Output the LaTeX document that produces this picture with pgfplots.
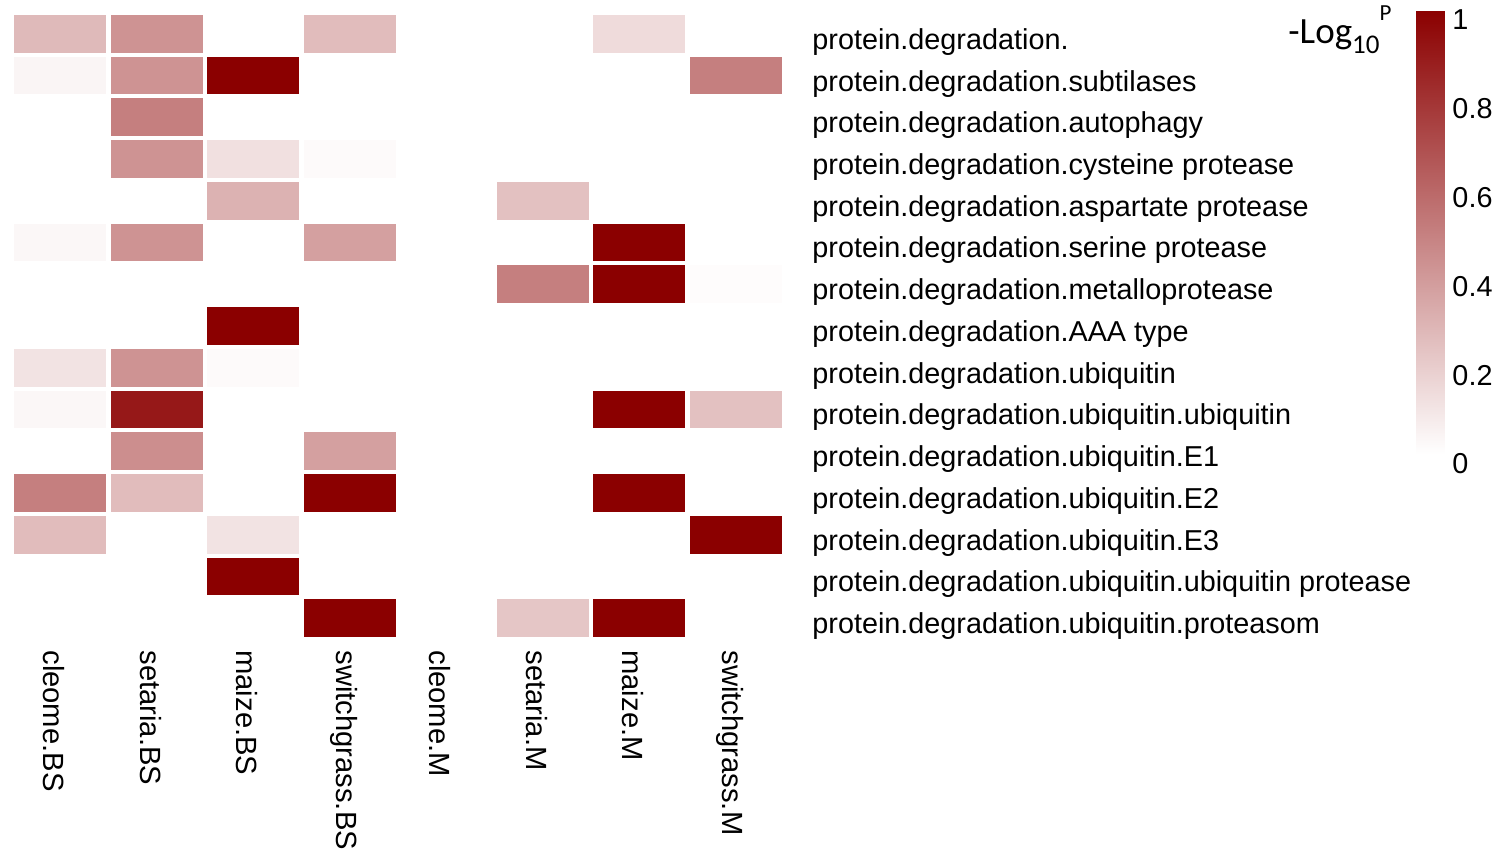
\documentclass[border=0pt]{standalone}
\usepackage{pgfplots}
\pgfplotsset{compat=1.18}
\usepackage{fontspec}
\setmainfont{Liberation Sans}
\newfontfamily\carlito{Carlito}
\begin{document}
\begin{tikzpicture}
\useasboundingbox (0,0) rectangle (754pt,-428.5pt);
\begin{axis}[
  at={(6pt,-6.5pt)}, anchor=north west,
  scale only axis, width=386pt, height=313pt,
  xmin=-0.5, xmax=7.5, ymin=-0.5, ymax=14.5,
  axis line style={draw=none}, major tick length=0pt,
  xtick={0,...,7},
  xticklabels={cleome.BS,setaria.BS,maize.BS,switchgrass.BS,cleome.M,setaria.M,maize.M,switchgrass.M},
  xticklabel style={xshift=-3pt, yshift=-5.5pt, rotate=-90, anchor=west, inner sep=0pt, font=\fontsize{14.6}{16}\selectfont},
  ytick={0,...,14},
  yticklabels={
    protein.degradation.ubiquitin.proteasom,
    protein.degradation.ubiquitin.ubiquitin protease,
    protein.degradation.ubiquitin.E3,
    protein.degradation.ubiquitin.E2,
    protein.degradation.ubiquitin.E1,
    protein.degradation.ubiquitin.ubiquitin,
    protein.degradation.ubiquitin,
    protein.degradation.AAA type,
    protein.degradation.metalloprotease,
    protein.degradation.serine protease,
    protein.degradation.aspartate protease,
    protein.degradation.cysteine protease,
    protein.degradation.autophagy,
    protein.degradation.subtilases,
    protein.degradation.},
  yticklabel pos=right,
  yticklabel style={anchor=west, inner sep=0pt, xshift=14pt, yshift=-4pt, font=\fontsize{14.4}{16}\selectfont},
  colormap={wr}{rgb255=(255,255,255) rgb255=(139,0,0)},
  point meta min=0, point meta max=1,
  colorbar,
  colorbar style={
    at={(parent axis.north east)}, anchor=north west,
    xshift=307.5pt, yshift=1.5pt,
    width=15pt, height=222pt,
    axis line style={draw=none}, major tick length=0pt,
    ytick={0,0.2,0.4,0.6,0.8,1},
    yticklabel style={anchor=west, inner sep=0pt, xshift=3pt, yshift=-5pt, font=\fontsize{14.4}{16}\selectfont, /pgf/number format/assume math mode=true},
  },
]
\addplot[scatter, only marks, scatter src=explicit, mark=square*, mark size=9.93pt,
  mark options={xscale=2.378, line width=1pt},
  scatter/use mapped color={draw=white, fill=mapped color}]
  table[meta=c] {
x y c
0 14 0.27
1 14 0.42
3 14 0.26
6 14 0.14
0 13 0.04
1 13 0.42
2 13 1
7 13 0.5
1 12 0.5
1 11 0.42
2 11 0.12
3 11 0.02
2 10 0.30
5 10 0.24
0 9 0.03
1 9 0.42
3 9 0.37
6 9 1
5 8 0.5
6 8 1
7 8 0.01
2 7 1
0 6 0.11
1 6 0.42
2 6 0.02
0 5 0.03
1 5 0.9
6 5 1
7 5 0.24
1 4 0.44
3 4 0.37
0 3 0.5
1 3 0.26
3 3 1
6 3 1
0 2 0.26
2 2 0.11
7 2 1
2 1 1
3 0 1
5 0 0.22
6 0 1
};
\end{axis}
\node[anchor=base west, inner sep=0pt] at (644pt,-21.5pt)
  {\carlito\fontsize{18.5}{20}\selectfont -Log\raisebox{-0.28em}{\fontsize{13.5}{14}\selectfont 10}\raisebox{0.62em}{\fontsize{11.5}{12}\selectfont P}};
\end{tikzpicture}
\end{document}
